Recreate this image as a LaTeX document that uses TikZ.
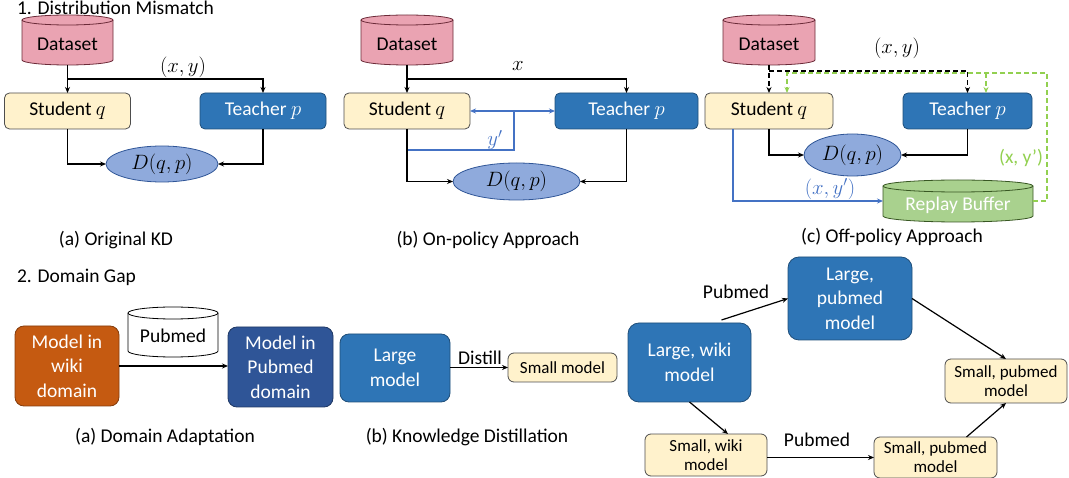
\documentclass[tikz,border=0pt]{standalone}
\usepackage{fontspec}
\setmainfont{Carlito}
\usetikzlibrary{arrows.meta,shapes.geometric}
\definecolor{cPink}{HTML}{EAA3B2}
\definecolor{cPinkD}{HTML}{6B2A38}
\definecolor{cYel}{HTML}{FFF2CC}
\definecolor{cYelD}{HTML}{4D4D4D}
\definecolor{cBlue}{HTML}{2E75B6}
\definecolor{cBlueD}{HTML}{1F4E79}
\definecolor{cEll}{HTML}{8FAADC}
\definecolor{cEllD}{HTML}{2F5597}
\definecolor{cOrange}{HTML}{C55A11}
\definecolor{cOrangeD}{HTML}{843C0C}
\definecolor{cNavy}{HTML}{2F5597}
\definecolor{cNavyD}{HTML}{1F3864}
\definecolor{cGreenF}{HTML}{A9D18E}
\definecolor{cGreenD}{HTML}{385723}
\definecolor{cGreen}{HTML}{92D050}
\definecolor{cLine}{HTML}{4472C4}
\newcommand{\cylbody}[4]{%
  \path[#4] ([yshift=-#3]#1.north west) -- ([yshift=#3]#1.south west)
    arc[start angle=180,end angle=360,x radius=#2,y radius=#3]
    -- ([yshift=-#3]#1.north east)
    arc[start angle=0,end angle=180,x radius=#2,y radius=#3] -- cycle;
  \path[#4,fill=none] ([yshift=-#3]#1.north west)
    arc[start angle=180,end angle=360,x radius=#2,y radius=#3];}
\begin{document}
\begin{tikzpicture}[x=1pt,y=-1pt,font=\fontsize{19.5}{24.5}\selectfont]
\tikzset{
 every node/.style={inner sep=0pt, outer sep=0pt},
 box/.style={rectangle, rounded corners=5pt, draw, line width=0.8pt, align=center},
 stud/.style={box, fill=cYel, draw=cYelD},
 teach/.style={box, fill=cBlue, draw=cBlueD, text=white},
 smallbox/.style={stud, rounded corners=6pt, font=\fontsize{17}{19}\selectfont},
 distnode/.style={ellipse, fill=cEll, draw=cEllD, line width=0.8pt},
 cylnode/.style={rectangle, draw=none},
 conn/.style={line width=1.2pt, -{Stealth[length=6pt,width=5pt]}},
 plainline/.style={line width=1.2pt},
 blueconn/.style={conn, draw=cLine},
 blueline/.style={plainline, draw=cLine},
 greenconn/.style={conn, draw=cGreen, dash pattern=on 5pt off 3pt},
 blackdash/.style={conn, dash pattern=on 5pt off 3pt},
}
\useasboundingbox (0,0) rectangle (1069,478);

% ---------- titles ----------
\node[anchor=base west] (title1) at (17,15) {1. Distribution Mismatch};
\node[anchor=base west] (title2) at (17,283) {2. Domain Gap};

% ---------- (a) Original KD ----------
\node[cylnode, minimum width=91pt, minimum height=50pt] (dsA) at (67.5,40) {};
\cylbody{dsA}{45.5pt}{5pt}{draw=cPinkD, fill=cPink, line width=0.8pt}
\node (dsAt) at (67.5,44) {Dataset};
\node[stud, minimum width=126pt, minimum height=36pt] (stA) at (67.5,111) {Student $q$};
\node[teach, minimum width=126pt, minimum height=36pt] (tcA) at (263,111) {Teacher $p$};
\node[distnode, minimum width=112pt, minimum height=36pt] (dA) at (162,164) {$D(q,p)$};
\coordinate (jA) at (67.5,79);
\draw[conn] (dsA.south) -- (stA.north);
\draw[conn] (jA) -| (tcA.north);
\node (lxyA) at (183,67) {$(x,y)$};
\draw[conn] (stA.south) |- (dA.west);
\draw[conn] (tcA.south) |- (dA.east);
\node (capA) at (116,240) {(a) Original KD};

% ---------- (b) On-policy ----------
\node[cylnode, minimum width=92pt, minimum height=50pt] (dsB) at (407,40) {};
\cylbody{dsB}{46pt}{5pt}{draw=cPinkD, fill=cPink, line width=0.8pt}
\node (dsBt) at (407,44) {Dataset};
\node[stud, minimum width=126pt, minimum height=36pt] (stB) at (407,111) {Student $q$};
\node[teach, minimum width=143pt, minimum height=36pt] (tcB) at (626.5,111) {Teacher $p$};
\node[distnode, minimum width=127pt, minimum height=37pt] (dB) at (516.5,181.5) {$D(q,p)$};
\coordinate (jB0) at (407,79);
\draw[conn] (dsB.south) -- (stB.north);
\draw[conn] (jB0) -| (tcB.north);
\node (lxB) at (518,66) {$x$};
\coordinate (jB) at (514,111);
\coordinate (kB) at (514,150);
\draw[blueconn] (jB) -- (stB.east);
\draw[blueconn] (jB) -- (tcB.west);
\draw[blueline] (jB) -- (kB) -- (kB -| stB.south);
\node[text=cLine] (lyB) at (495,140) {$y'$};
\draw[conn] (stB.south) |- (dB.west);
\draw[conn] (tcB.south) |- (dB.east);
\node (capB) at (488,240) {(b) On-policy Approach};

% ---------- (c) Off-policy ----------
\node[cylnode, minimum width=92pt, minimum height=50pt] (dsC) at (769,40) {};
\cylbody{dsC}{46pt}{5pt}{draw=cPinkD, fill=cPink, line width=0.8pt}
\node (dsCt) at (769,44) {Dataset};
\node[stud, minimum width=128pt, minimum height=36pt] (stC) at (769,111) {Student $q$};
\node[teach, minimum width=129pt, minimum height=36pt] (tcC) at (967.5,111) {Teacher $p$};
\node[distnode, minimum width=97pt, minimum height=42pt] (dC) at (852.5,155) {$D(q,p)$};
\node[cylnode, minimum width=150pt, minimum height=42pt] (rb) at (958,201) {};
\cylbody{rb}{75pt}{6pt}{draw=cGreenD, fill=cGreenF, line width=0.8pt}
\node[text=white] (rbt) at (958,205) {Replay Buffer};
\coordinate (jC0) at (769,71);
\draw[blackdash] (dsC.south) -- (stC.north);
\draw[blackdash] (jC0) -| (tcC.north);
\node (lxyC) at (897,48) {$(x,y)$};
\coordinate (gC2) at (1047,73);
\coordinate (gS) at (787,93);
\coordinate (gT) at (986,93);
\draw[greenconn] (rb.east) -| (gC2) -| (gS);
\draw[greenconn] (gT |- gC2) -- (gT);
\node[text=cGreen] (lgC) at (1021,158) {(x, y')};
\draw[conn] (stC.south) |- (dC.west);
\draw[conn] (tcC.south) |- (dC.east);
\draw[blueconn] ([xshift=-36pt]stC.south) |- (rb.west);
\node[text=cLine] (lbC) at (830,189) {$(x,y')$};
\node (capC) at (892,237) {(c) Off-policy Approach};

% ---------- 2(a) Domain adaptation ----------
\node[box, rounded corners=9pt, fill=cOrange, draw=cOrangeD, text=white, minimum width=104pt, minimum height=80pt] (wiki) at (67,366) {Model in\\wiki\\domain};
\node[cylnode, minimum width=90pt, minimum height=50pt] (pubC) at (173,332) {};
\cylbody{pubC}{45pt}{6pt}{draw=black, fill=white, line width=0.8pt}
\node (pubCt) at (173,336) {Pubmed};
\node[box, rounded corners=9pt, fill=cNavy, draw=cNavyD, text=white, minimum width=105pt, minimum height=80pt] (pubD) at (280.5,367) {Model in\\Pubmed\\domain};
\draw[conn] (wiki.east) -- (wiki.east -| pubD.west);
\node (capD) at (165,437) {(a) Domain Adaptation};

% ---------- 2(b) Knowledge distillation ----------
\node[teach, rounded corners=9pt, minimum width=110pt, minimum height=68pt] (large) at (395,368) {Large\\model};
\node[smallbox, minimum width=109pt, minimum height=29pt] (small) at (562.5,367.5) {Small model};
\draw[conn] (large.east |- small.west) -- (small.west);
\node[anchor=south] (ldist) at (480,365) {Distill};
\node (capE) at (467,437) {(b) Knowledge Distillation};

% ---------- 2(c) ----------
\node[teach, rounded corners=11pt, minimum width=123pt, minimum height=79pt] (lw) at (689.5,362.5) {Large, wiki\\model};
\node[teach, rounded corners=11pt, minimum width=124pt, minimum height=83pt] (lp) at (850,298.5) {Large,\\pubmed\\model};
\node[smallbox, minimum width=122pt, minimum height=42pt] (sw) at (706,455) {Small, wiki\\model};
\node[smallbox, minimum width=123pt, minimum height=41pt] (spb) at (935.5,457.5) {Small, pubmed\\model};
\node[smallbox, minimum width=122pt, minimum height=44pt] (spr) at (1006,381) {Small, pubmed\\model};
\draw[conn] ([xshift=32pt,yshift=3pt]lw.north) -- (lp.west);
\node (lpub1) at (736,292) {Pubmed};
\draw[conn] (lw.south) -- ([xshift=22pt]sw.north);
\draw[conn] (sw.east |- spb.west) -- (spb.west);
\node (lpub2) at (817,440) {Pubmed};
\draw[conn] (lp.east) -- (spr.north);
\draw[conn] ([xshift=31pt]spb.north) -- (spr.south);
\end{tikzpicture}
\end{document}
